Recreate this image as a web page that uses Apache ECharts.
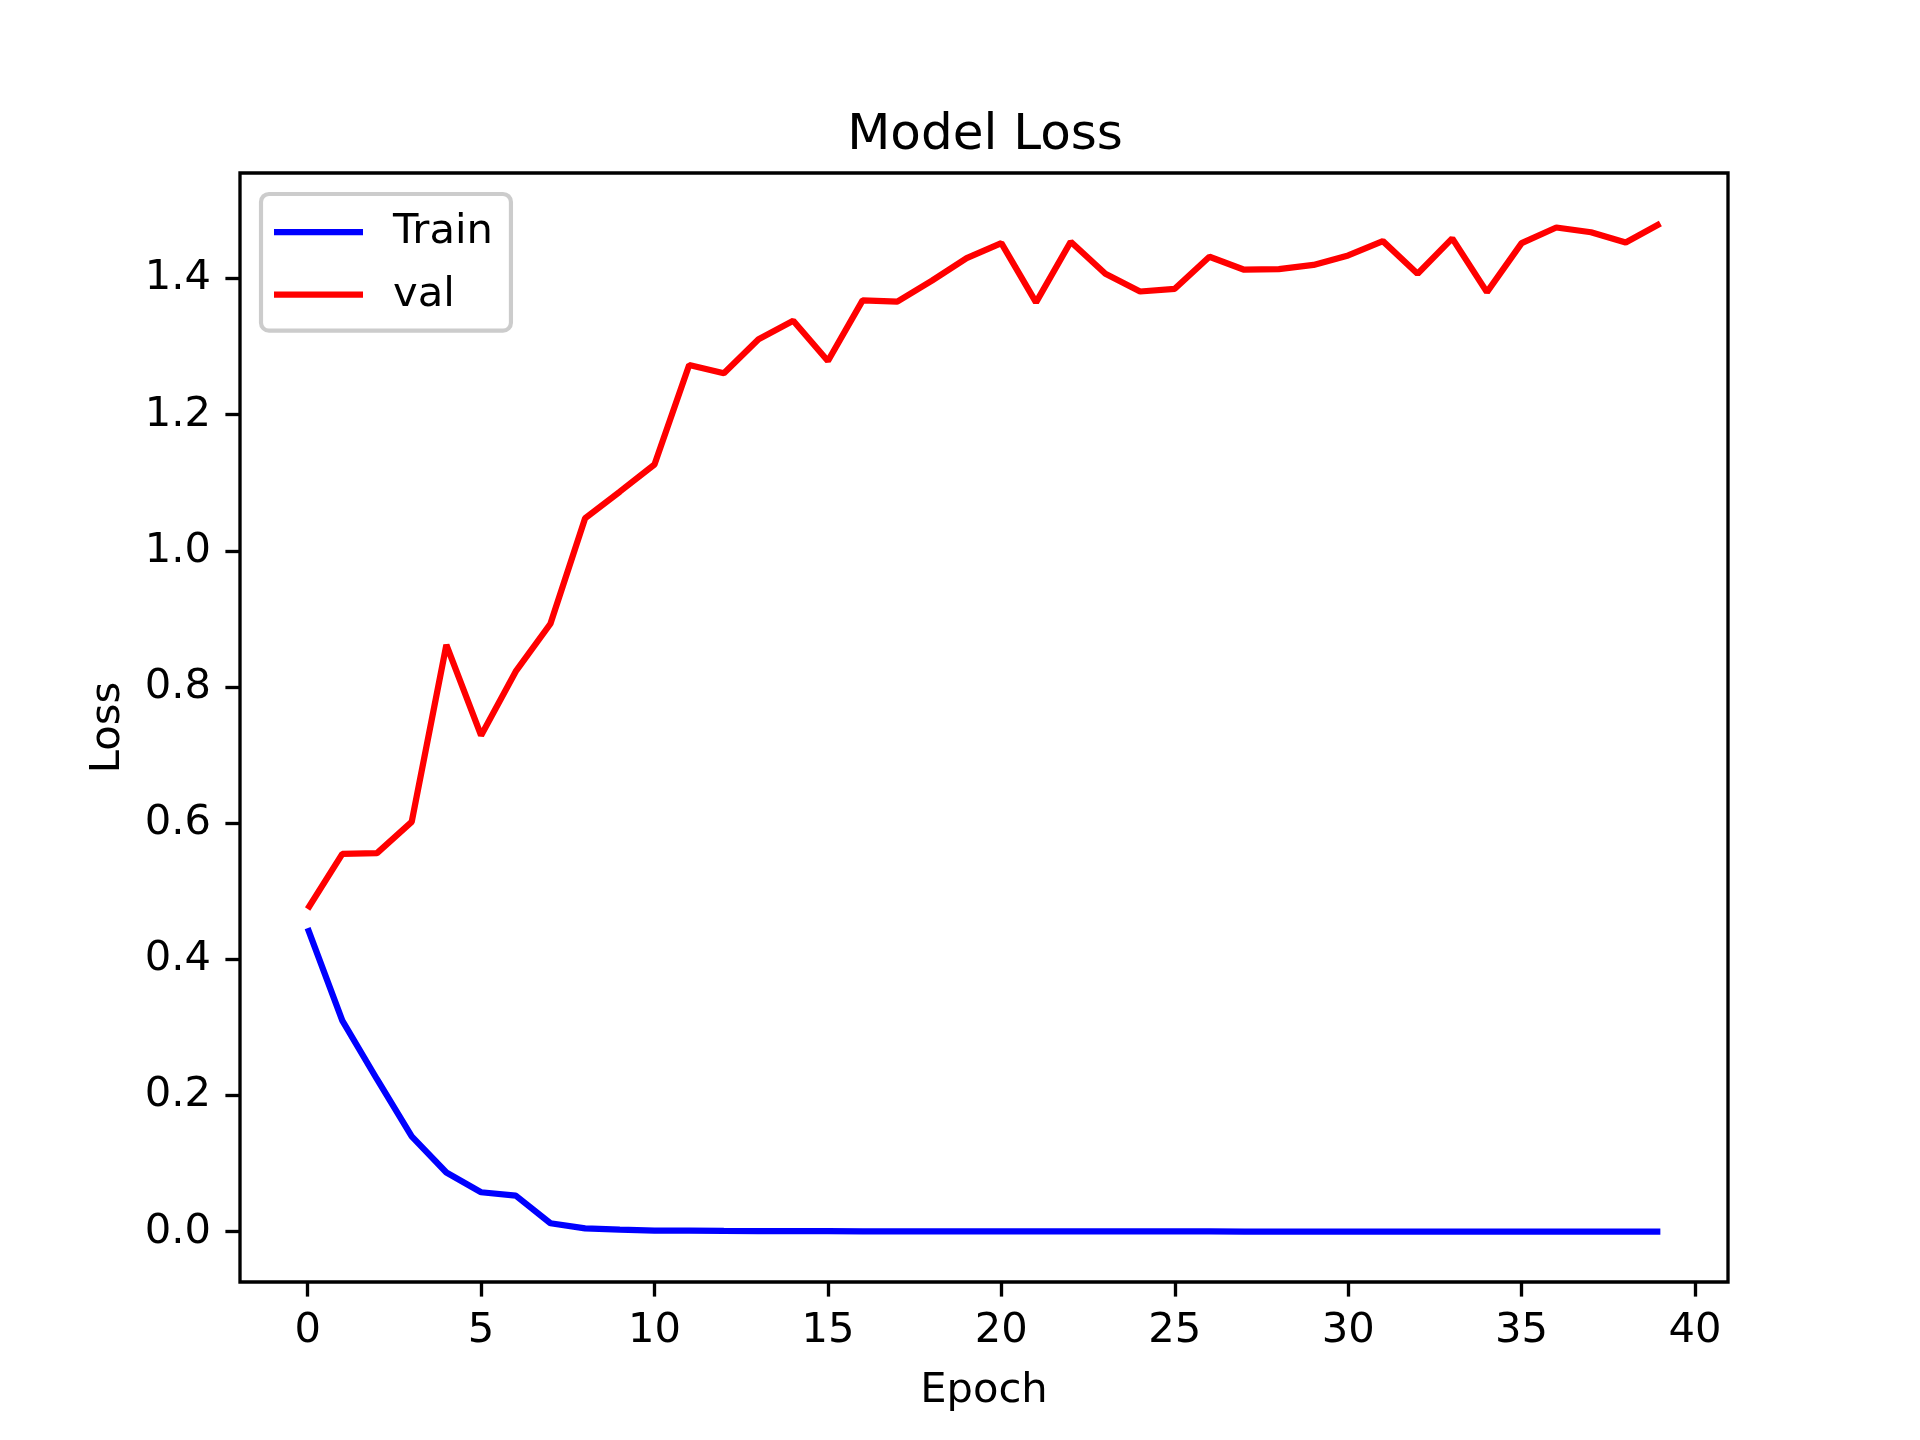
<!DOCTYPE html>
<html>
<head>
<meta charset="utf-8">
<script src="https://cdn.jsdelivr.net/npm/echarts@6/dist/echarts.min.js"></script>
<style>html,body{margin:0;padding:0;background:#fff;}#c{width:1920px;height:1440px;}</style>
</head>
<body>
<div id="c"></div>
<script>
const epochs = Array.from({length: 40}, (_, i) => i);
const trainLoss = [0.446, 0.310, 0.224, 0.140, 0.087, 0.058, 0.053, 0.0125, 0.005, 0.003,
  0.0018, 0.0015, 0.0012, 0.0010, 0.0009, 0.0008, 0.0007, 0.0007, 0.0006, 0.0006,
  0.0005, 0.0005, 0.0005, 0.0004, 0.0004, 0.0004, 0.0004, 0.0003, 0.0003, 0.0003,
  0.0003, 0.0003, 0.0003, 0.0002, 0.0002, 0.0002, 0.0002, 0.0002, 0.0002, 0.0002];
const valLoss = [0.474, 0.555, 0.556, 0.602, 0.862, 0.729, 0.823, 0.893, 1.048, 1.087,
  1.127, 1.273, 1.261, 1.311, 1.338, 1.279, 1.368, 1.366, 1.397, 1.430,
  1.452, 1.365, 1.454, 1.407, 1.381, 1.385, 1.432, 1.413, 1.414, 1.420,
  1.434, 1.455, 1.407, 1.459, 1.380, 1.452, 1.475, 1.468, 1.453, 1.481];
const xTicks = [0, 5, 10, 15, 20, 25, 30, 35, 40];
const yTicks = [0.0, 0.2, 0.4, 0.6, 0.8, 1.0, 1.2, 1.4];

const FONT = 'DejaVu Sans';
const chart = echarts.init(document.getElementById('c'), null, {renderer: 'canvas'});
const pad = v => 0.05 * (v.max - v.min);
chart.setOption({
  animation: false,
  backgroundColor: '#ffffff',
  title: {
    text: 'Model Loss', left: 980, top: 106, textAlign: 'center',
    textStyle: {fontFamily: FONT, fontSize: 50, fontWeight: 'normal', color: '#000'}
  },
  legend: {
    left: 261, top: 194, orient: 'vertical',
    backgroundColor: '#ffffff', borderColor: '#cccccc', borderWidth: 4.17, borderRadius: 8,
    padding: [17, 18, 15, 13], itemGap: 20.7, itemWidth: 89, itemHeight: 6.25, icon: 'rect',
    textStyle: {fontFamily: FONT, fontSize: 41.67, color: '#000', padding: [0, 0, 0, 25], lineHeight: 42},
    data: ['Train', 'val']
  },
  grid: {left: 240, right: 192, top: 173, bottom: 158, show: true, borderColor: '#000', borderWidth: 3.33, backgroundColor: 'transparent'},
  xAxis: {
    type: 'value',
    min: v => v.min - pad(v), max: v => v.max + pad(v),
    name: 'Epoch', nameLocation: 'middle', nameGap: 88,
    nameTextStyle: {fontFamily: FONT, fontSize: 41.67, color: '#000'},
    axisLine: {show: false, onZero: false},
    axisTick: {show: true, inside: false, length: 14.6, lineStyle: {color: '#000', width: 3.33}, customValues: xTicks},
    axisLabel: {fontFamily: FONT, fontSize: 41.67, color: '#000', margin: 28, customValues: xTicks, formatter: v => String(v)},
    splitLine: {show: false}
  },
  yAxis: {
    type: 'value',
    min: v => v.min - pad(v), max: v => v.max + pad(v),
    name: 'Loss', nameLocation: 'middle', nameGap: 111, nameRotate: 90,
    nameTextStyle: {fontFamily: FONT, fontSize: 41.67, color: '#000'},
    axisLine: {show: false, onZero: false},
    axisTick: {show: true, inside: false, length: 14.6, lineStyle: {color: '#000', width: 3.33}, customValues: yTicks},
    axisLabel: {fontFamily: FONT, fontSize: 41.67, color: '#000', margin: 29, customValues: yTicks, formatter: v => v.toFixed(1)},
    splitLine: {show: false}
  },
  series: [
    {name: 'Train', type: 'line', data: epochs.map((e, i) => [e, trainLoss[i]]), showSymbol: false, symbol: 'none',
     lineStyle: {color: '#0000ff', width: 6.25}, itemStyle: {color: '#0000ff'}},
    {name: 'val', type: 'line', data: epochs.map((e, i) => [e, valLoss[i]]), showSymbol: false, symbol: 'none',
     lineStyle: {color: '#ff0000', width: 6.25}, itemStyle: {color: '#ff0000'}}
  ]
});
</script>
</body>
</html>
